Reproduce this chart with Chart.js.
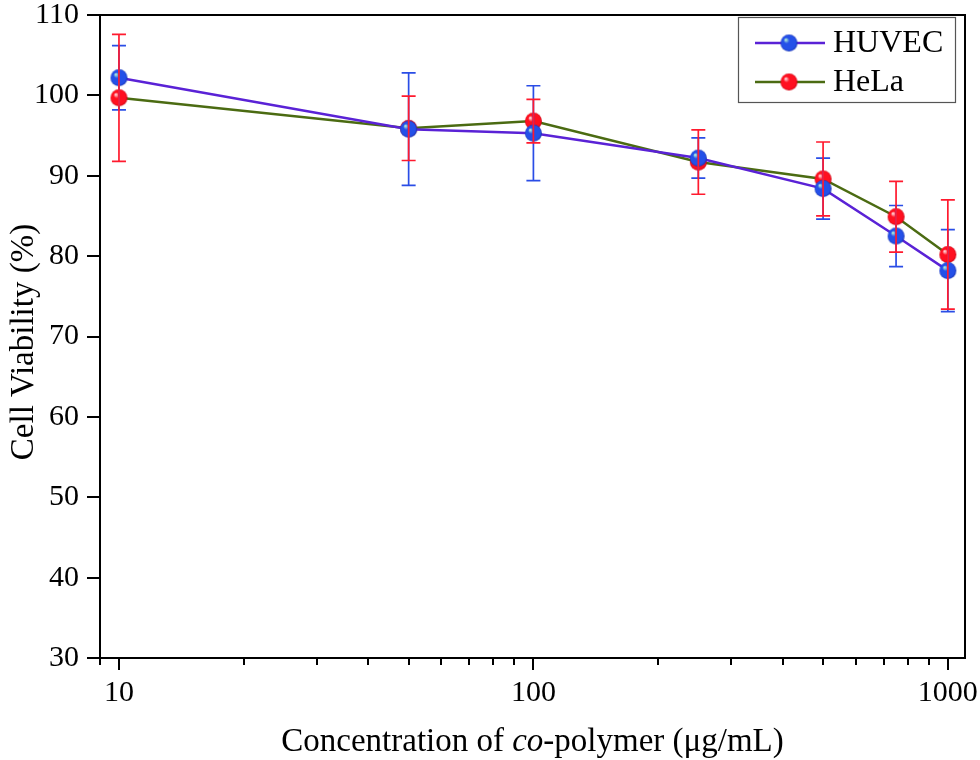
<!DOCTYPE html>
<html><head><meta charset="utf-8">
<script src="https://cdn.jsdelivr.net/npm/chart.js@4.4.0/dist/chart.umd.min.js"></script>
<style>html,body{margin:0;padding:0;background:#fff;}</style>
</head><body>
<canvas id="c" width="980" height="760" style="width:980px;height:760px;display:block"></canvas>
<script>
const concentrations = [10, 50, 100, 250, 500, 750, 1000];
const huvecViability = [102.2, 95.8, 95.3, 92.2, 88.4, 82.5, 78.2];
const huvecError = [4.0, 7.0, 5.9, 2.5, 3.8, 3.8, 5.1];
const helaViability = [99.7, 95.9, 96.8, 91.7, 89.6, 84.9, 80.2];
const helaError = [7.9, 4.0, 2.7, 4.0, 4.6, 4.4, 6.8];
const yTicks = [30, 40, 50, 60, 70, 80, 90, 100, 110];
const xMajorTicks = [10, 100, 1000];
const xMinorTicks = [9, 20, 30, 40, 50, 60, 70, 80, 90, 200, 300, 400, 500, 600, 700, 800, 900];
const xTitleParts = [["Concentration of ", false], ["co", true], ["-polymer (\u03bcg/mL)", false]];
const yTitle = "Cell Viability (%)";

const FONT = "'Liberation Serif', 'Times New Roman', serif";

function sphere(r, hi, mid, edge) {
  const c = document.createElement('canvas');
  const s = Math.ceil(r * 2 + 2);
  c.width = s; c.height = s;
  const g = c.getContext('2d');
  const cx = s / 2, cy = s / 2;
  const grad = g.createRadialGradient(cx - r * 0.4, cy - r * 0.4, 0.5, cx, cy, r);
  grad.addColorStop(0, hi);
  grad.addColorStop(0.3, mid);
  grad.addColorStop(0.85, mid);
  grad.addColorStop(1, edge);
  g.fillStyle = grad;
  g.beginPath(); g.arc(cx, cy, r, 0, Math.PI * 2); g.fill();
  return c;
}
const blueBall = sphere(8.5, '#b0f0d8', '#2450e8', '#1530b0');
const redBall = sphere(8.5, '#ffd8dc', '#ff1020', '#c80010');

const errColors = ['#2a4de6', '#ff1a2e'];
const errArrays = [huvecError, helaError];

const decor = {
  id: 'decor',
  afterDatasetsDraw(chart) {
    const ctx = chart.ctx;
    const xs = chart.scales.x, ys = chart.scales.y;
    ctx.save();
    chart.data.datasets.forEach((ds, di) => {
      const err = errArrays[di];
      ctx.strokeStyle = errColors[di];
      ctx.lineWidth = 1.7;
      ds.data.forEach((p, i) => {
        const x = xs.getPixelForValue(p.x);
        const y1 = ys.getPixelForValue(p.y - err[i]);
        const y2 = ys.getPixelForValue(p.y + err[i]);
        ctx.beginPath();
        ctx.moveTo(x, y1); ctx.lineTo(x, y2);
        ctx.moveTo(x - 7, y1); ctx.lineTo(x + 7, y1);
        ctx.moveTo(x - 7, y2); ctx.lineTo(x + 7, y2);
        ctx.stroke();
      });
    });
    ctx.restore();
  },
  afterDraw(chart) {
    const ctx = chart.ctx;
    const a = chart.chartArea;
    const xs = chart.scales.x, ys = chart.scales.y;
    ctx.save();
    ctx.strokeStyle = '#000';
    ctx.lineWidth = 2;
    ctx.strokeRect(a.left, a.top, a.right - a.left, a.bottom - a.top);
    ctx.beginPath();
    yTicks.forEach(v => {
      const y = Math.round(ys.getPixelForValue(v));
      ctx.moveTo(a.left - 13, y); ctx.lineTo(a.left, y);
    });
    xMajorTicks.forEach(v => {
      const x = Math.round(xs.getPixelForValue(v));
      ctx.moveTo(x, a.bottom); ctx.lineTo(x, a.bottom + 12);
    });
    xMinorTicks.forEach(v => {
      const x = Math.round(xs.getPixelForValue(v));
      ctx.moveTo(x, a.bottom); ctx.lineTo(x, a.bottom + 7);
    });
    ctx.stroke();

    // x title with italic part
    ctx.fillStyle = '#000';
    ctx.textBaseline = 'alphabetic';
    let total = 0;
    xTitleParts.forEach(([t, it]) => {
      ctx.font = (it ? 'italic ' : '') + '33px ' + FONT;
      total += ctx.measureText(t).width;
    });
    let x0 = (a.left + a.right) / 2 - total / 2;
    xTitleParts.forEach(([t, it]) => {
      ctx.font = (it ? 'italic ' : '') + '33px ' + FONT;
      ctx.textAlign = 'left';
      ctx.fillText(t, x0, 751);
      x0 += ctx.measureText(t).width;
    });
    // y title
    ctx.save();
    ctx.translate(33, 342);
    ctx.rotate(-Math.PI / 2);
    ctx.font = '33px ' + FONT;
    ctx.textAlign = 'center';
    ctx.fillText(yTitle, 0, 0);
    ctx.restore();

    // legend
    const lx = 738, ly = 17, lw = 217, lh = 85;
    ctx.fillStyle = '#fff';
    ctx.fillRect(lx, ly, lw, lh);
    ctx.strokeStyle = '#555';
    ctx.lineWidth = 1.2;
    ctx.strokeRect(lx + 0.5, ly + 0.5, lw, lh);
    const rows = [43, 82];
    chart.data.datasets.forEach((ds, i) => {
      const y = rows[i];
      ctx.strokeStyle = ds.borderColor;
      ctx.lineWidth = 2.5;
      ctx.beginPath(); ctx.moveTo(755, y); ctx.lineTo(825, y); ctx.stroke();
      const img = ds.pointStyle;
      ctx.drawImage(img, 789 - img.width / 2, y - img.height / 2);
      ctx.fillStyle = '#000';
      ctx.font = '32px ' + FONT;
      ctx.textAlign = 'left';
      ctx.textBaseline = 'middle';
      ctx.fillText(ds.label, 833, y + 1);
    });
    ctx.restore();
  }
};

const toPts = (vals) => concentrations.map((c, i) => ({ x: c, y: vals[i] }));

new Chart(document.getElementById('c'), {
  type: 'line',
  data: {
    datasets: [
      { label: 'HUVEC', data: toPts(huvecViability), borderColor: '#5a22d6', borderWidth: 2.5,
        pointStyle: blueBall, pointRadius: 8, pointHoverRadius: 8, tension: 0, fill: false },
      { label: 'HeLa', data: toPts(helaViability), borderColor: '#4b6b12', borderWidth: 2.5,
        pointStyle: redBall, pointRadius: 8, pointHoverRadius: 8, tension: 0, fill: false }
    ]
  },
  options: {
    responsive: false,
    animation: false,
    devicePixelRatio: 1,
    layout: { padding: { left: 0, right: 15, top: 15, bottom: 0 } },
    plugins: { legend: { display: false }, tooltip: { enabled: false } },
    events: [],
    scales: {
      x: {
        type: 'logarithmic', min: 9, max: 1100,
        afterBuildTicks: (s) => {
          s.ticks = [...xMajorTicks, ...xMinorTicks].sort((p, q) => p - q).map(v => ({ value: v }));
        },
        afterFit: (s) => { s.height = 102; s.paddingLeft = 0; s.paddingRight = 0; },
        ticks: {
          autoSkip: false, maxRotation: 0, minRotation: 0, padding: 8, color: '#000',
          font: { family: FONT, size: 30, lineHeight: 1.0 },
          callback: (v) => xMajorTicks.includes(v) ? String(v) : ''
        },
        grid: { display: true, drawOnChartArea: false, drawTicks: true, tickLength: 12, color: 'rgba(0,0,0,0)' },
        border: { display: false },
        title: { display: false }
      },
      y: {
        type: 'linear', min: 30, max: 110,
        afterBuildTicks: (s) => { s.ticks = yTicks.map(v => ({ value: v })); },
        afterFit: (s) => { s.width = 100; s.paddingTop = 0; s.paddingBottom = 0; },
        ticks: { padding: 8, color: '#000', font: { family: FONT, size: 30, lineHeight: 1.0 } },
        grid: { display: true, drawOnChartArea: false, drawTicks: true, tickLength: 13, color: 'rgba(0,0,0,0)' },
        border: { display: false },
        title: { display: false }
      }
    }
  },
  plugins: [decor]
});
</script>
</body></html>
